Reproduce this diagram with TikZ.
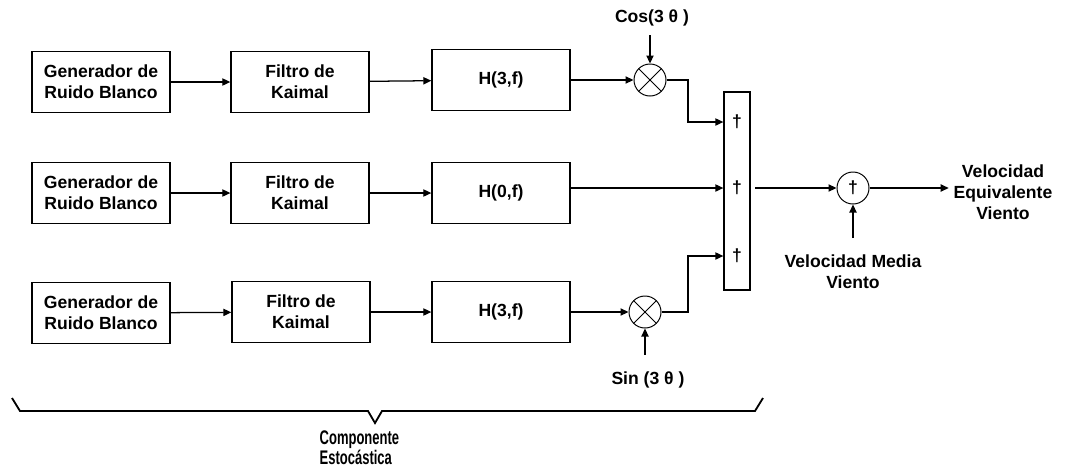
\documentclass[tikz,border=0pt]{standalone}
\usepackage{fontspec}
\setmainfont{Liberation Sans}
\usetikzlibrary{arrows.meta}

\tikzset{
  txt/.style={font=\fontsize{12.5}{15}\selectfont\bfseries},
  block/.style={draw, line width=0.9pt, minimum width=3.45cm, minimum height=1.52cm, align=center, txt},
  mult/.style={draw, circle, line width=0.7pt, minimum size=0.8cm, inner sep=0pt,
    path picture={\draw[line width=0.7pt] (path picture bounding box.north west) -- (path picture bounding box.south east)
      (path picture bounding box.north east) -- (path picture bounding box.south west);}},
  adder/.style={draw, circle, line width=0.7pt, minimum size=0.8cm, inner sep=0pt, txt},
  flow/.style={-{Triangle[length=2mm,width=1.8mm]}, line width=0.9pt},
  lbl/.style={align=center, txt},
}

\begin{document}
\begin{tikzpicture}[x=0.025cm, y=-0.025cm]
    \useasboundingbox (0,0) rectangle (1066,470);

    % First branch (cosine)
    \node[block] (gen1) at (101,82) {Generador de\\Ruido Blanco};
    \node[block] (fil1) at (300,82) {Filtro de\\Kaimal};
    \node[block] (h1) at (501,80) {H(3,f)};
    \node[mult] (mult1) at (650,80) {};
    \node[lbl] (cos) at (652,18) {Cos(3 θ )};

    % Second branch
    \node[block] (gen2) at (101,193) {Generador de\\Ruido Blanco};
    \node[block] (fil2) at (300,193) {Filtro de\\Kaimal};
    \node[block] (h2) at (501,193) {H(0,f)};

    % Third branch (sine)
    \node[block] (gen3) at (101,313) {Generador de\\Ruido Blanco};
    \node[block] (fil3) at (301,312) {Filtro de\\Kaimal};
    \node[block] (h3) at (501,312) {H(3,f)};
    \node[mult] (mult3) at (645,312) {};
    \node[lbl] (sin) at (648,380) {Sin (3 θ )};

    % Summing column
    \node[draw, line width=0.9pt, minimum width=0.65cm, minimum height=4.95cm] (sum) at (737,191) {};
    \node[txt] (s1) at (737,122) {†};
    \node[txt] (s2) at (737,188) {†};
    \node[txt] (s3) at (737,256) {†};
    \coordinate (j1) at (688,122);
    \coordinate (j3) at (688,256);

    % Mean wind and output
    \node[adder] (add) at (853,188) {†};
    \node[lbl] (vmed) at (853,272) {Velocidad Media\\Viento};
    \node[lbl] (vout) at (1003,192) {Velocidad\\Equivalente\\Viento};

    % Connections along the branches
    \draw[flow] (gen1) -- (fil1);
    \draw[flow] (fil1) -- (h1);
    \draw[flow] (h1) -- (mult1);
    \draw[flow] (gen2) -- (fil2);
    \draw[flow] (fil2) -- (h2);
    \draw[flow] (gen3) -- (fil3);
    \draw[flow] (fil3) -- (h3);
    \draw[flow] (h3) -- (mult3);

    % Modulating inputs
    \draw[flow] ([yshift=-0.1cm]mult1 |- cos.south) -- (mult1.north);
    \draw[flow] ([yshift=0.3cm]mult3 |- sin.north) -- (mult3.south);

    % Into the summing column
    \draw[flow] (mult1.east) -| (j1) -- (sum.west |- j1);
    \draw[flow] (h2.east |- s2) -- (sum.west |- s2);
    \draw[flow] (mult3.east) -| (j3) -- (sum.west |- j3);

    % Adding the mean wind
    \draw[flow] ([xshift=0.12cm]sum.east |- s2) -- (add);
    \draw[flow] ([yshift=0.3cm]vmed.north) -- (add);
    \draw[flow] (add) -- (vout.west |- add);

    % Brace under the stochastic part
    \draw[line width=1.3pt] (12,398) -- (20,411) -- (368,411) -- (375,423) -- (382,411) -- (755,411) -- (763,398);
    \node[align=left, anchor=west, inner sep=1pt, font=\fontsize{14}{13}\selectfont\bfseries] (comp) at (318,448)
        {\scalebox{0.66}[1]{Componente}\\\scalebox{0.66}[1]{Estocástica}};
\end{tikzpicture}
\end{document}
